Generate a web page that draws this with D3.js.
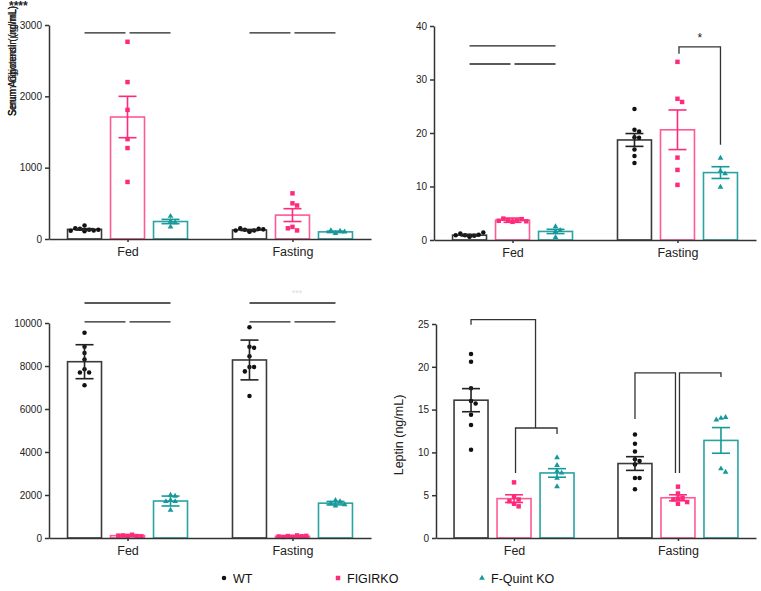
<!DOCTYPE html>
<html>
<head>
<meta charset="utf-8">
<script src="https://cdn.jsdelivr.net/npm/d3@7"></script>
<style>
  body { margin: 0; background: #fff; }
  svg { display: block; font-family: "Liberation Sans", Arial, sans-serif; }
</style>
</head>
<body>
<div id="chart"></div>
<script>
// ---- data ----
const conditions = ["Fed", "Fasting"];
const genotypes = ["WT", "FIGIRKO", "F-Quint KO"];

// panel A (top left)
const adipoFed = [[110, 130, 145, 120, 150, 190, 130, 115], [2765, 2200, 1810, 1400, 1275, 800], [320, 250, 230, 170]];
const adipoFasting = [[100, 120, 130, 145, 150, 135, 120, 110], [640, 500, 470, 170, 120, 150], [80, 110, 120, 100]];
const adipoMean = [[135, 1710, 245], [126, 335, 100]];
const adipoSem = [[10, 290, 30], [8, 90, 10]];
const adipoTicks = [0, 1000, 2000, 3000];

// panel B (top right)
const glyFed = [[0.6, 0.8, 0.9, 1.0, 1.2, 1.4, 0.9, 0.7, 0.8], [3.4, 3.6, 3.7, 3.9, 4.0, 3.5, 3.6], [0.5, 1.6, 1.8, 2.5]];
const glyFasting = [[24.5, 20.6, 20.3, 19.2, 19.1, 16.9, 15.7, 14.4], [33.3, 26.4, 25.8, 15.4, 13.1, 10.3], [15.3, 12.9, 12.4, 9.9]];
const glyMean = [[0.9, 3.7, 1.6], [18.7, 20.6, 12.6]];
const glySem = [[0.15, 0.4, 0.4], [1.2, 3.7, 1.1]];
const glyTicks = [0, 10, 20, 30, 40];

// panel C (bottom left)
const insFed = [[9550, 8900, 8600, 8300, 7850, 7700, 7700, 7100], [100, 150, 120, 90, 110, 80], [2000, 1950, 1750, 1700, 1700, 1300]];
const insFasting = [[9800, 8900, 8850, 8450, 7950, 7950, 7750, 6600], [60, 120, 90, 80, 50, 100, 70], [1750, 1700, 1600, 1550, 1500]];
const insMean = [[8200, 110, 1720], [8280, 80, 1620]];
const insSem = [[790, 20, 230], [925, 15, 80]];
const insTicks = [0, 2000, 4000, 6000, 8000, 10000];

// panel D (bottom right)
const leptinFed = [[21.5, 20.6, 17.5, 16.0, 15.7, 14.4, 13.2, 10.3], [6.5, 4.8, 4.5, 4.3, 4.0, 3.7], [9.4, 8.5, 7.8, 7.6, 7.0, 6.0]];
const leptinFasting = [[12.1, 11.0, 10.1, 9.2, 9.0, 8.6, 7.0, 7.0, 5.7], [6.0, 5.2, 4.7, 4.6, 4.5, 4.2, 4.0], [14.0, 14.1, 13.8, 8.1, 7.7]];
const leptinMean = [[16.1, 4.6, 7.6], [8.7, 4.7, 11.4]];
const leptinSem = [[1.35, 0.45, 0.5], [0.8, 0.35, 1.5]];
const leptinTicks = [0, 5, 10, 15, 20, 25];

// significance lines: [condition, from genotype, to genotype, y value]
const adipoLines = [["Fed", 0, 1, 2890], ["Fed", 1, 2, 2890], ["Fasting", 0, 1, 2890], ["Fasting", 1, 2, 2890]];
const glyLines = [["Fed", 0, 2, 36.3], ["Fed", 0, 1, 32.9], ["Fed", 1, 2, 32.9]];
const insLines = [["Fed", 0, 2, 10930], ["Fed", 0, 1, 10050], ["Fed", 1, 2, 10050],
                  ["Fasting", 0, 2, 10930], ["Fasting", 0, 1, 10050], ["Fasting", 1, 2, 10050]];
// brackets: [condition, left genotype, right genotype, top, left end, right end, label]
const glyBrackets = [["Fasting", 1, 2, 36.1, 34.8, 17.8, "*"]];
const leptinBrackets = [["Fed", 0, 1.5, 25.5, 24.9, 12.85, ""], ["Fed", 1, 2, 12.85, 7.6, 12.15, ""],
                        ["Fasting", 0, 1, 19.3, 13.9, 7.6, ""], ["Fasting", 1, 2, 19.3, 7.6, 18.8, ""]];

// overlapping y labels of the first panel
const adipoLabels = ["Serum Adiponectin (ng/mL)", "Serum Angiotensin (ng/mL)", "Serum Glycerol (µg/mL)"];

// ---- styling ----
const colors = { "WT": "#111", "FIGIRKO": "#ff2a7c", "F-Quint KO": "#16999a" };
const barStroke = { "WT": "#3a3a3a", "FIGIRKO": "#ff5a96", "F-Quint KO": "#2aa3a3" };
const axisColor = "#333";

const width = 761, height = 591;
const svg = d3.select("#chart").append("svg")
  .attr("width", width).attr("height", height);

const symbolFor = {
  "WT": d3.symbolCircle,
  "FIGIRKO": d3.symbolSquare,
  "F-Quint KO": d3.symbolTriangle
};
const symbolSize = { "WT": 16, "FIGIRKO": 20, "F-Quint KO": 14 };

function beeswarm(ys, step, maxOff) {
  const placed = [];
  return ys.map((y) => {
    let off = 0;
    for (let k = 0; k < 20; k++) {
      const cand = k === 0 ? 0 : (k % 2 ? 1 : -1) * Math.ceil(k / 2) * step;
      if (Math.abs(cand) > maxOff) break;
      const clash = placed.some((p) => Math.abs(p.x - cand) < step && Math.abs(p.y - y) < step);
      if (!clash) { off = cand; break; }
    }
    placed.push({ x: off, y: y });
    return off;
  });
}

function drawPanel(cfg) {
  const g = svg.append("g");
  const y = d3.scaleLinear().domain(cfg.domain).range([cfg.y0, cfg.y1]);
  const x = d3.scalePoint().domain(conditions).range([cfg.x0, cfg.x1]).padding(0.476);
  const inner = d3.scaleBand().domain(genotypes).range([-64.5, 64.5])
    .paddingInner(0.21).paddingOuter(0.105);
  const bw = inner.bandwidth();
  const cx = (cond, gi) => x(cond) + inner(genotypes[Math.floor(gi)]) + bw / 2 + (gi % 1 ? inner.step() / 2 : 0);

  conditions.forEach((cond, ci) => {
    const pts = ci === 0 ? cfg.fed : cfg.fasting;
    genotypes.forEach((gen, gi) => {
      const center = cx(cond, gi);
      const mean = cfg.mean[ci][gi];
      const sem = cfg.sem[ci][gi];
      // bar
      g.append("rect")
        .attr("x", center - bw / 2)
        .attr("y", y(mean))
        .attr("width", bw)
        .attr("height", y(0) - y(mean))
        .attr("fill", "white")
        .attr("stroke", barStroke[gen])
        .attr("stroke-width", 1.6);
      // points
      const ys = pts[gi].map((v) => y(v));
      const offs = beeswarm(ys, 4.6, bw / 2 - 2);
      g.selectAll(null).data(pts[gi]).enter().append("path")
        .attr("d", d3.symbol().type(symbolFor[gen]).size(symbolSize[gen]))
        .attr("transform", (d, i) => `translate(${center + offs[i]},${y(d)})`)
        .attr("fill", colors[gen]);
      // error bar
      const eb = g.append("g").attr("stroke", gen === "WT" ? "#222" : colors[gen])
        .attr("stroke-width", 1.6);
      eb.append("line").attr("x1", center).attr("x2", center)
        .attr("y1", y(mean + sem)).attr("y2", y(mean - sem));
      [mean + sem, mean - sem].forEach((v) => {
        eb.append("line").attr("x1", center - 9).attr("x2", center + 9)
          .attr("y1", y(v)).attr("y2", y(v));
      });
    });
  });

  // axes
  const yAxis = g.append("g").attr("transform", `translate(${cfg.x0},0)`)
    .call(d3.axisLeft(y).tickValues(cfg.ticks).tickFormat(d3.format("d"))
      .tickSize(4).tickSizeOuter(0).tickPadding(3));
  const xAxis = g.append("g").attr("transform", `translate(0,${y(0)})`)
    .call(d3.axisBottom(x).tickSize(3).tickSizeOuter(0).tickPadding(5));
  [yAxis, xAxis].forEach((a) => {
    a.selectAll("path, line").attr("stroke", axisColor).attr("stroke-width", 1.5);
    a.selectAll("text").attr("fill", "#222").style("font-family", "Liberation Sans, Arial, sans-serif");
  });
  yAxis.selectAll("text").style("font-size", "10px");
  xAxis.selectAll("text").style("font-size", "12.5px");

  // significance lines
  (cfg.lines || []).forEach(([cond, a, b, v]) => {
    const xa = cx(cond, a), xb = cx(cond, b);
    const gapL = a === 1 ? 2 : 0, gapR = b === 1 ? -2 : 0;
    g.append("line").attr("x1", xa + gapL).attr("x2", xb + gapR)
      .attr("y1", y(v)).attr("y2", y(v))
      .attr("stroke", "#222").attr("stroke-width", 1.3);
  });
  (cfg.brackets || []).forEach(([cond, a, b, top, lEnd, rEnd, label]) => {
    const xa = cx(cond, a) + (a === 1 ? 1.5 : 0);
    const xb = cx(cond, b) - (b === 1 ? 2.5 : 0);
    g.append("path")
      .attr("d", `M${xa},${y(lEnd)}V${y(top)}H${xb}V${y(rEnd)}`)
      .attr("fill", "none").attr("stroke", "#333").attr("stroke-width", 1.3);
    if (label) {
      g.append("text").attr("x", (xa + xb) / 2).attr("y", y(top) - 5)
        .attr("text-anchor", "middle").style("font-size", "12px").attr("fill", "#222")
        .text(label);
    }
  });

  if (cfg.ylabel) {
    g.append("text")
      .attr("transform", `translate(${cfg.ylabelX},${cfg.ylabelY}) rotate(-90)`)
      .attr("text-anchor", "middle")
      .style("font-size", "12.5px").attr("fill", "#222")
      .text(cfg.ylabel);
  }
  return g;
}

drawPanel({ x0: 49, x1: 371, y0: 239, y1: 25, domain: [0, 3000], ticks: adipoTicks,
  fed: adipoFed, fasting: adipoFasting, mean: adipoMean, sem: adipoSem, lines: adipoLines });
drawPanel({ x0: 434, x1: 756, y0: 240, y1: 26, domain: [0, 40], ticks: glyTicks,
  fed: glyFed, fasting: glyFasting, mean: glyMean, sem: glySem, lines: glyLines, brackets: glyBrackets });
drawPanel({ x0: 49, x1: 371, y0: 538, y1: 323, domain: [0, 10000], ticks: insTicks,
  fed: insFed, fasting: insFasting, mean: insMean, sem: insSem, lines: insLines });
drawPanel({ x0: 436, x1: 756, y0: 538, y1: 324, domain: [0, 25], ticks: leptinTicks,
  fed: leptinFed, fasting: leptinFasting, mean: leptinMean, sem: leptinSem, brackets: leptinBrackets,
  ylabel: "Leptin (ng/mL)", ylabelX: 403, ylabelY: 435 });

// overlapping y labels squeezed into the top-left corner
adipoLabels.forEach((t) => {
  svg.append("text")
    .attr("transform", "translate(16,116) rotate(-90) scale(1,1.3)")
    .attr("textLength", 110)
    .attr("lengthAdjust", "spacingAndGlyphs")
    .style("font-size", "9px").attr("fill", "#222")
    .text(t);
});
svg.append("text").attr("x", 9).attr("y", 10)
  .style("font-size", "12px").style("font-weight", "bold").attr("fill", "#222")
  .text("****");

// faint marks
svg.append("text").attr("x", 297).attr("y", 296).attr("text-anchor", "middle")
  .style("font-size", "9px").attr("fill", "#ddd").text("***");

// legend
const legendX = d3.scaleOrdinal().domain(genotypes).range([224, 338, 482]);
const legend = svg.append("g").attr("transform", "translate(0,578)");
genotypes.forEach((gen) => {
  legend.append("path")
    .attr("d", d3.symbol().type(symbolFor[gen]).size(symbolSize[gen]))
    .attr("transform", `translate(${legendX(gen)},0)`)
    .attr("fill", colors[gen]);
  legend.append("text")
    .attr("x", legendX(gen) + 9).attr("y", 4.5)
    .style("font-size", "12.5px").attr("fill", "#111")
    .text(gen);
});
</script>
</body>
</html>
